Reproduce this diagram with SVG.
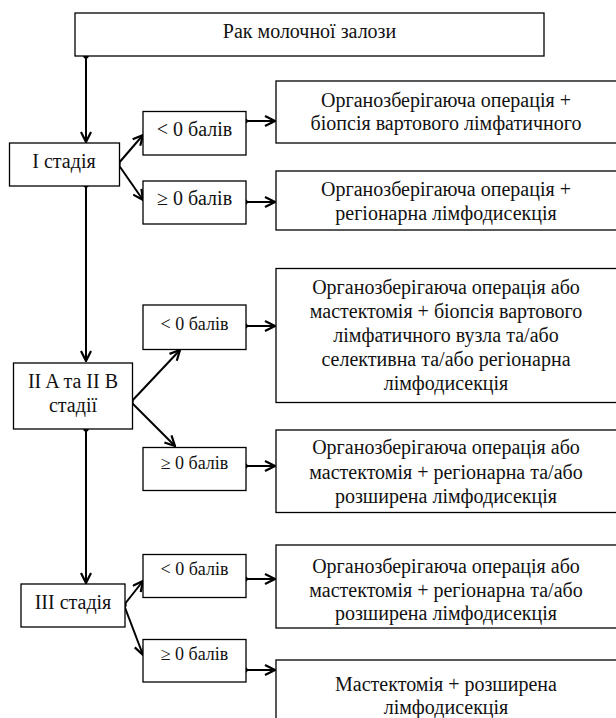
<svg xmlns="http://www.w3.org/2000/svg" width="616" height="718" viewBox="0 0 616 718">
<style>
.box{fill:#fff;stroke:#000;stroke-width:1.3}
.t{font-size:20px;fill:#111;text-anchor:middle}
.s{font-size:18px}
.c{fill:none;stroke:#000;stroke-width:2;marker-start:url(#dot);marker-end:url(#arr)}
.n{fill:none;stroke:#000;stroke-width:2;marker-end:url(#arr)}
</style>
<defs>
<marker id="arr" viewBox="0 0 12 12" refX="11" refY="6" markerWidth="12" markerHeight="12" markerUnits="userSpaceOnUse" orient="auto">
<path d="M1,1 L11,6 L1,11" fill="none" stroke="#000" stroke-width="2.2"/>
</marker>
<marker id="dot" viewBox="0 0 6 6" refX="3" refY="3" markerWidth="6" markerHeight="6" markerUnits="userSpaceOnUse">
<circle cx="3" cy="3" r="2.7" fill="#000"/>
</marker>
</defs>
<g id="connectors">
<path class="c" d="M86,56 L86,142"/>
<path class="c" d="M118,164 L143,135"/>
<path class="n" d="M118,164 L143,200"/>
<path class="c" d="M245,121 L275,121"/>
<path class="c" d="M245,202 L275,202"/>
<path class="c" d="M86,185 L86,361"/>
<path class="c" d="M131,402 L180,350"/>
<path class="n" d="M131,402 L175,446"/>
<path class="c" d="M245,326 L275,326"/>
<path class="c" d="M245,466 L275,466"/>
<path class="c" d="M86,429 L86,583"/>
<path class="c" d="M124,605 L143,581"/>
<path class="n" d="M124,605 L143,655"/>
<path class="c" d="M245,579 L275,579"/>
<path class="c" d="M245,670 L275,670"/>
</g>
<g font-family="Liberation Serif, Times New Roman, serif">
<g id="root">
<rect class="box" x="75" y="13" width="469" height="43"/>
<text class="t" x="309.5" y="38">Рак молочної залози</text>
</g>
<g id="stage1">
<rect class="box" x="9.5" y="143" width="110" height="43"/>
<text class="t" x="64" y="168">I стадія</text>
</g>
<g id="s1lt">
<rect class="box" x="143" y="111.5" width="103" height="43.5"/>
<text class="t" x="194.5" y="136">&lt; 0 балів</text>
</g>
<g id="s1ge">
<rect class="box" x="143" y="181" width="103" height="43"/>
<text class="t" x="194.5" y="205">≥ 0 балів</text>
</g>
<g id="r1">
<rect class="box" x="276" y="81" width="341" height="62"/>
<text class="t" x="446" y="106.5">Органозберігаюча операція +</text>
<text class="t" x="446" y="129.5">біопсія вартового лімфатичного</text>
</g>
<g id="r2">
<rect class="box" x="276" y="171" width="341" height="59"/>
<text class="t" x="446" y="196">Органозберігаюча операція +</text>
<text class="t" x="446" y="219.5">регіонарна лімфодисекція</text>
</g>
<g id="stage2">
<rect class="box" x="13.5" y="363" width="119" height="66"/>
<text class="t" x="73" y="388">II A та II B</text>
<text class="t" x="73" y="412">стадії</text>
</g>
<g id="s2lt">
<rect class="box" x="143" y="305" width="103" height="44.5"/>
<text class="t s" x="194.5" y="330">&lt; 0 балів</text>
</g>
<g id="s2ge">
<rect class="box" x="143" y="447.5" width="103" height="43"/>
<text class="t s" x="194.5" y="469">≥ 0 балів</text>
</g>
<g id="r3">
<rect class="box" x="276" y="268.5" width="341" height="134"/>
<text class="t" x="446" y="293.5">Органозберігаюча операція або</text>
<text class="t" x="446" y="317.5">мастектомія + біопсія вартового</text>
<text class="t" x="446" y="341.5">лімфатичного вузла  та/або</text>
<text class="t" x="446" y="365.5">селективна та/або регіонарна</text>
<text class="t" x="446" y="389.5">лімфодисекція</text>
</g>
<g id="r4">
<rect class="box" x="276" y="430" width="341" height="82.5"/>
<text class="t" x="446" y="454">Органозберігаюча операція або</text>
<text class="t" x="446" y="478.5">мастектомія + регіонарна та/або</text>
<text class="t" x="446" y="503">розширена лімфодисекція</text>
</g>
<g id="stage3">
<rect class="box" x="21" y="584" width="104" height="43"/>
<text class="t" x="73" y="609">III стадія</text>
</g>
<g id="s3lt">
<rect class="box" x="143" y="554.5" width="103" height="43"/>
<text class="t s" x="194.5" y="575">&lt; 0 балів</text>
</g>
<g id="s3ge">
<rect class="box" x="143" y="639.5" width="103" height="42.5"/>
<text class="t s" x="194.5" y="660">≥ 0 балів</text>
</g>
<g id="r5">
<rect class="box" x="276" y="545" width="341" height="83"/>
<text class="t" x="446" y="573">Органозберігаюча операція або</text>
<text class="t" x="446" y="596.5">мастектомія + регіонарна та/або</text>
<text class="t" x="446" y="620">розширена лімфодисекція</text>
</g>
<g id="r6">
<rect class="box" x="276" y="660" width="341" height="70"/>
<text class="t" x="446" y="691">Мастектомія + розширена</text>
<text class="t" x="446" y="713.5">лімфодисекція</text>
</g>
</g>
</svg>
